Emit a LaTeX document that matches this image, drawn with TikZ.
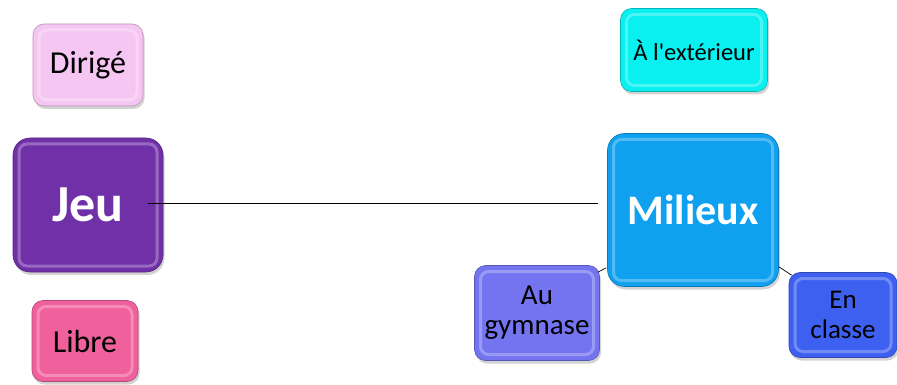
\documentclass[tikz,border=0pt]{standalone}
\usepackage{fontspec}
\setmainfont{Carlito}
\newfontfamily\carlplain{Carlito}
\usetikzlibrary{shadows,calc}
\definecolor{cDir}{HTML}{F6C6F2}
\definecolor{cJeu}{HTML}{7030A8}
\definecolor{cLib}{HTML}{F0609C}
\definecolor{cExt}{HTML}{08F0F0}
\definecolor{cMil}{HTML}{10A0F0}
\definecolor{cGym}{HTML}{7474F0}
\definecolor{cCla}{HTML}{3E60F0}
\tikzset{
  box/.style={rounded corners=11pt, draw=#1!75!black, line width=0.6pt, fill=#1,
    drop shadow={shadow xshift=1.5pt, shadow yshift=-3pt, opacity=0.35},
    path picture={
      \draw[white, opacity=0.28, line width=3pt, rounded corners=8pt]
        ([shift={(6pt,6pt)}]path picture bounding box.south west) rectangle
        ([shift={(-6pt,-6pt)}]path picture bounding box.north east);
    },
    align=center, inner sep=0pt, text=black},
  fs/.style={font=\fontsize{#1pt}{30pt}\selectfont},
  big/.style={rounded corners=17pt, font=\fontsize{#1pt}{#1pt}\selectfont\bfseries, text=white},
  link/.style={draw=black, line width=0.9pt}
}
\begin{document}
\begin{tikzpicture}[x=1pt,y=-1pt]
\useasboundingbox (0,0) rectangle (897,385);
\node[box=cDir, fs=32, minimum width=110pt, minimum height=82pt] (dir) at (88,65) {Dirigé};
\node[box=cJeu, big=52, minimum width=150pt, minimum height=134pt] (jeu) at (88,205) {Jeu};
\node[box=cLib, fs=32, minimum width=106pt, minimum height=81pt] (lib) at (85,341) {Libre};
\node[box=cExt, fs=24.5, minimum width=147pt, minimum height=83pt] (ext) at (694,50) {\carlplain À l'extérieur};
\node[box=cMil, big=42, minimum width=171pt, minimum height=153pt] (mil) at (693,210) {Milieux};
\node[box=cGym, fs=29, minimum width=125pt, minimum height=95pt] (gym) at (537,313) {Au\\gymnase};
\node[box=cCla, fs=27, minimum width=108pt, minimum height=85pt] (cla) at (843,315) {En\\classe};
\draw[link] ($(jeu.east)+(-15,-2)$) -- ($(jeu.east -| mil.west)+(-9,-2)$);
\draw[link, line width=0.7pt] ($(mil.south west)+(-1,-19)$) -- ($(gym.north east)+(-2,7)$);
\draw[link, line width=0.7pt] ($(mil.south east)+(0,-20)$) -- ($(cla.north west)+(3,3)$);
\end{tikzpicture}
\end{document}
